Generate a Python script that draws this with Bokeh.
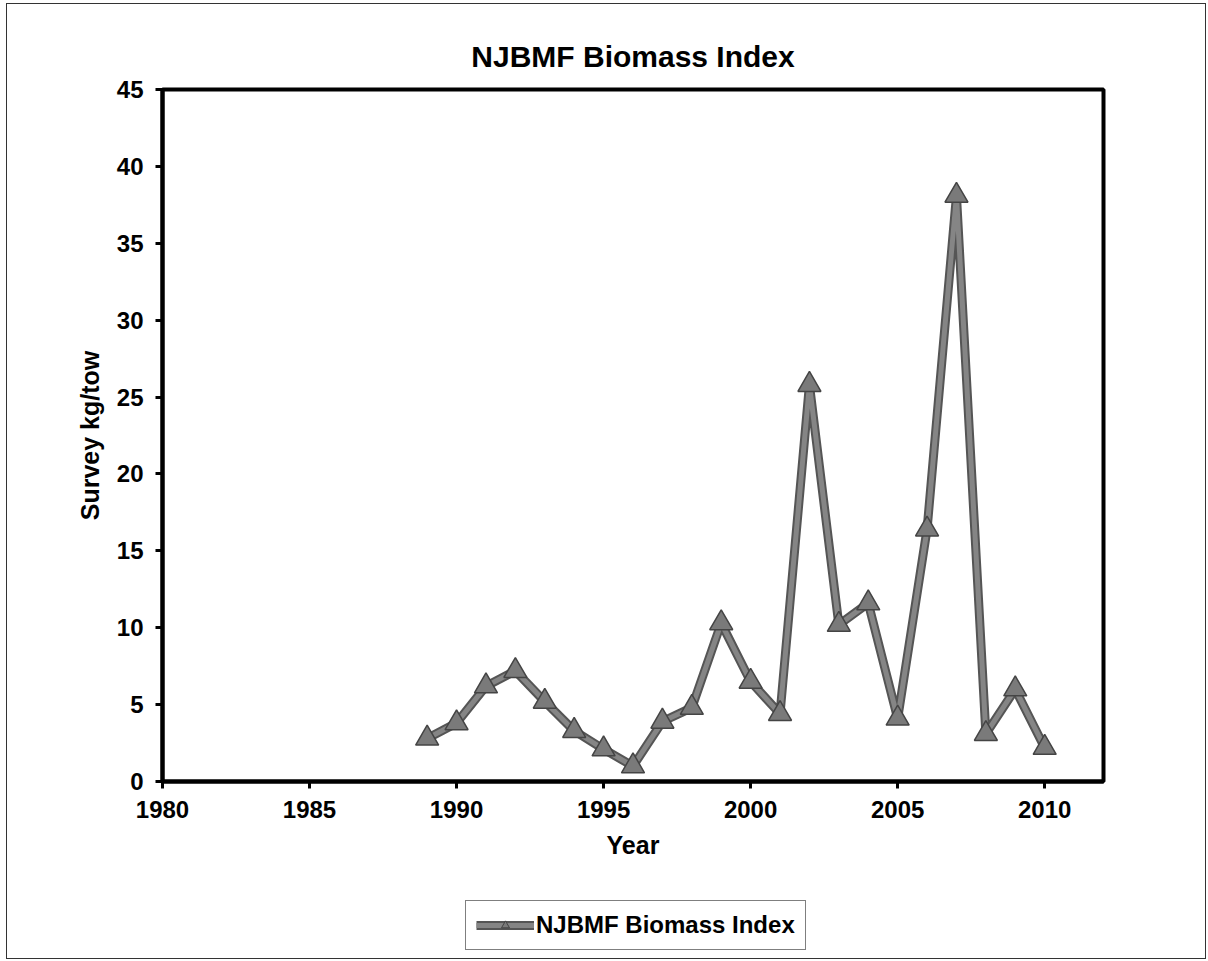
from bokeh.plotting import figure
from bokeh.layouts import column
from bokeh.models import Range1d, Legend, LegendItem, SingleIntervalTicker, Title
from bokeh.embed import file_html
from bokeh.resources import INLINE

years = [1989, 1990, 1991, 1992, 1993, 1994, 1995, 1996, 1997, 1998, 1999,
         2000, 2001, 2002, 2003, 2004, 2005, 2006, 2007, 2008, 2009, 2010]
biomass = [2.8, 3.8, 6.2, 7.2, 5.2, 3.3, 2.1, 1.0, 3.9, 4.8, 10.3,
           6.5, 4.4, 25.8, 10.2, 11.6, 4.1, 16.4, 38.1, 3.1, 6.0, 2.2]
title_text = "NJBMF Biomass Index"
series_name = "NJBMF Biomass Index"
x_label = "Year"
y_label = "Survey kg/tow"

FONT = "Liberation Sans"
EDGE = "#555555"
INNER = "#858585"

p = figure(width=1198, height=872, output_backend="svg", toolbar_location=None,
           x_range=Range1d(1980, 2012), y_range=Range1d(0, 45),
           min_border_left=155, min_border_right=102, min_border_top=85,
           min_border_bottom=95, title=None)

t = Title(text=title_text, align="center", text_font=FONT, text_font_size="30px",
          text_font_style="bold", text_color="black", standoff=33)
p.add_layout(t, "above")

p.grid.visible = False
p.outline_line_color = "black"
p.outline_line_width = 4

for ax in (p.xaxis[0], p.yaxis[0]):
    ax.axis_line_width = 4
    ax.axis_line_color = "black"
    ax.major_tick_line_width = 3
    ax.major_tick_line_color = "black"
    ax.major_tick_out = 7
    ax.major_tick_in = 0
    ax.minor_tick_line_color = None
    ax.major_label_text_font = FONT
    ax.major_label_text_font_size = "24px"
    ax.major_label_text_font_style = "bold"
    ax.major_label_text_color = "black"
    ax.axis_label_text_font = FONT
    ax.axis_label_text_font_size = "25px"
    ax.axis_label_text_font_style = "bold"
    ax.axis_label_text_color = "black"

p.xaxis[0].ticker = SingleIntervalTicker(interval=5)
p.yaxis[0].ticker = SingleIntervalTicker(interval=5)
p.xaxis[0].axis_label = x_label
p.yaxis[0].axis_label = y_label
p.xaxis[0].major_label_standoff = 12
p.yaxis[0].major_label_standoff = 12
p.xaxis[0].axis_label_standoff = 10
p.yaxis[0].axis_label_standoff = 10

p.line(years, biomass, line_color=EDGE, line_width=9, line_join="round")
p.line(years, biomass, line_color=INNER, line_width=5, line_join="round")
p.scatter(years, biomass, marker="triangle", size=23,
          fill_color="#7a7a7a", line_color="#444444", line_width=1.5)

# legend strip below the chart (its glyph renderers lie outside its own ranges)
lf = figure(width=1198, height=82, output_backend="svg", toolbar_location=None,
            x_range=Range1d(0, 1), y_range=Range1d(0, 1),
            x_axis_location=None, y_axis_location=None,
            min_border_left=0, min_border_right=0, min_border_top=0,
            min_border_bottom=0, title=None)
lf.grid.visible = False
lf.outline_line_color = None
le = lf.line(years, biomass, line_color=EDGE, line_width=9)
li = lf.line(years, biomass, line_color=INNER, line_width=5)
lm = lf.scatter(years, biomass, marker="triangle", size=11,
                fill_color="#7a7a7a", line_color="#444444", line_width=1)

legend = Legend(items=[LegendItem(label=series_name, renderers=[le, li, lm])],
                location=(303, 8), orientation="horizontal",
                label_text_font=FONT, label_text_font_size="24px",
                label_text_font_style="bold", label_text_color="black",
                border_line_color="black", border_line_width=1.5,
                glyph_width=58, glyph_height=20, label_standoff=2,
                padding=10, margin=0, spacing=0, background_fill_alpha=1)
lf.add_layout(legend, "center")

layout = column(p, lf, spacing=0)
layout.styles = {"border": "1px solid #333", "margin-left": "6px", "margin-top": "3px"}

open("out.html", "w").write(file_html(layout, INLINE))
